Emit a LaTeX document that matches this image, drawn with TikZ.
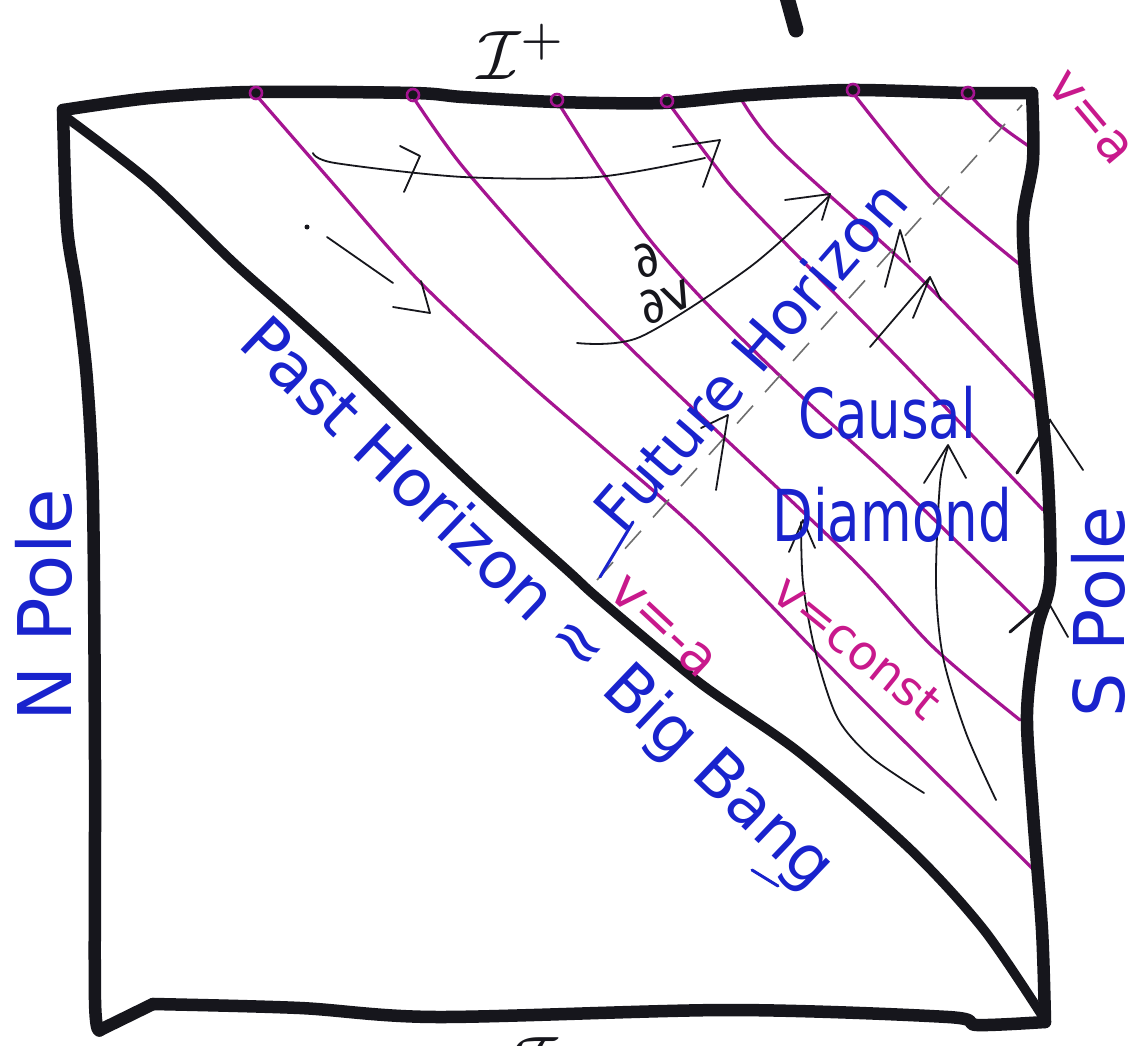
\documentclass[tikz,border=0pt]{standalone}
\usepackage{fontspec}
\setmainfont{DejaVu Sans}
\definecolor{ink}{RGB}{22,22,28}
\definecolor{mag}{RGB}{165,20,145}
\definecolor{magtxt}{RGB}{200,25,140}
\definecolor{pen}{RGB}{25,35,205}
\definecolor{graypen}{RGB}{110,110,110}
\newcommand\hwsize[1]{\fontsize{#1}{#1}\selectfont}
\begin{document}
\begin{tikzpicture}[x=1pt,y=-1pt,
 frame/.style={draw=ink,line width=12.5pt,line cap=round,line join=round},
 diag/.style={draw=ink,line width=9.5pt,line cap=round,line join=round},
 vline/.style={draw=mag,line width=3.2pt,line cap=round},
 vdot/.style={circle,draw=mag,line width=2.6pt,inner sep=0pt,minimum size=12pt},
 thin/.style={draw=ink,line width=1.8pt,line cap=round,line join=round},
 horiz/.style={draw=graypen,line width=1.6pt,dash pattern=on 24pt off 18pt},
 bluetxt/.style={text=pen,inner sep=0pt},
 bluestroke/.style={draw=pen,line width=3pt,line cap=round},
 magtext/.style={text=magtxt,inner sep=0pt},
]
\clip (0,0) rectangle (1143,1046);
\fill[white] (0,0) rectangle (1143,1046);

% magenta v = const lines
\draw[vline] plot[smooth] coordinates {(256,95) (330,180) (420,282) (525,380) (600,445) (700,533) (850,687) (1037,873)};
\draw[vline] plot[smooth] coordinates {(413,97) (463,167) (563,280) (663,380) (850,557) (933,647) (1020,720)};
\draw[vline] plot[smooth] coordinates {(557,101) (603,173) (650,240) (710,307) (800,395) (893,480) (1030,613)};
\draw[vline] plot[smooth] coordinates {(667,101) (713,163) (750,207) (900,360) (1043,510)};
\draw[vline] plot[smooth] coordinates {(740,97) (780,150) (917,275) (1037,400)};
\draw[vline] plot[smooth] coordinates {(853,93) (933,190) (1023,267)};
\draw[vline] plot[smooth] coordinates {(968,93) (997,123) (1030,147)};

% frame
\draw[frame] plot[smooth,tension=0.5] coordinates {(63,110) (150,98) (250,92) (413,93) (463,97) (557,102) (663,103) (750,95) (850,90) (967,93) (1032,93)};
\draw[frame] plot[smooth,tension=0.5] coordinates {(1032,93) (1033,160) (1023,220) (1027,293) (1040,393) (1048,480) (1050,580) (1037,630) (1027,713) (1033,813) (1042,930) (1045,1022)};
\draw[frame] plot[smooth,tension=0.5] coordinates {(1045,1022) (977,1025) (948,1017) (729,1010) (437,1017) (300,1008) (153,1004)};
\draw[frame] (153,1004) -- (100,1030);
\draw[frame] plot[smooth,tension=0.5] coordinates {(100,1030) (95,1000) (95,760) (93,500) (87,380) (77,293) (67,227) (63,110)};
% past horizon
\draw[diag] plot[smooth,tension=0.5] coordinates {(63,115) (150,182) (233,262) (293,315) (350,367) (467,480) (567,570) (600,600) (700,683) (800,753) (911,850) (984,930) (1045,1020)};

% dots on the top edge
\node[vdot] (d1) at (256,93) {};
\node[vdot] (d2) at (413,95) {};
\node[vdot] (d3) at (557,100) {};
\node[vdot] (d4) at (667,101) {};
\node[vdot] (d6) at (853,90) {};
\node[vdot] (d7) at (968,93) {};

% future horizon (dashed)
\draw[horiz] (597,580) -- (1022,105);

% top stroke
\draw[ink,line width=15pt,line cap=round] (785,-10) -- (796,30);

% thin arrows
\draw[thin] plot[smooth] coordinates {(313,153) (335,163) (463,177) (597,177) (705,158)};
\draw[thin] (400,146) -- (420,156) -- (404,192);
\draw[thin] (673,147) -- (720,140) -- (703,187);
\fill[ink] (307,227) circle (2.5pt);
\draw[thin] (327,237) -- (393,283);
\draw[thin] (393,307) -- (430,313) -- (421,281);
\draw[thin] plot[smooth] coordinates {(577,343) (640,337) (750,267) (828,197)};
\draw[thin] (785,200) -- (830,194) -- (822,220);
\draw[thin] (716,490) -- (728,415) -- (701,428);
\draw[thin] (870,347) -- (930,277) -- (913,318);
\draw[thin] (930,277) -- (941,300);
\draw[thin] (885,287) -- (900,230) -- (910,262);
\draw[thin] plot[smooth] coordinates {(924,793) (871,757) (837,717) (815,650) (803,583) (801,522)};
\draw[thin] (789,552) -- (803,520) -- (815,548);
\draw[thin] plot[smooth] coordinates {(996,800) (966,733) (943,657) (936,583) (940,483) (948,447)};
\draw[thin] (924,483) -- (948,445) -- (966,478);
\draw[ink,line width=3pt,line cap=round] (1017,473) -- (1050,420);
\draw[thin] (1050,420) -- (1083,470);
\draw[ink,line width=3pt,line cap=round] (1010,632) -- (1047,600);
\draw[thin] (1047,600) -- (1068,637);

% labels
\node[text=ink] (scrip) at (522,52) {\scalebox{7}{$\mathcal{I}^{+}$}};
\node[text=ink] (scrim) at (560,1058) {\scalebox{7}{$\mathcal{I}^{-}$}};
\node[bluetxt,rotate=-43.6,font=\hwsize{65}] (past) at (536,606) {Past Horizon ≈ Big Bang};
\node[bluetxt,rotate=49,font=\hwsize{60}] (future) at (750,355) {Future Horizon};
\draw[bluestroke] (600,577) -- (633,522);
\draw[bluestroke] (752,870) -- (778,886);
\node[bluetxt,font=\hwsize{53}] (causal) at (887,413) {\scalebox{1}[1.3]{Causal}};
\node[bluetxt,font=\hwsize{53}] (diamond) at (892,515) {\scalebox{1}[1.35]{Diamond}};
\node[bluetxt,rotate=90,font=\hwsize{70}] (spole) at (1098,612) {S Pole};
\node[bluetxt,rotate=90,font=\hwsize{74}] (npole) at (44,605) {N Pole};
\node[magtext,rotate=-50,font=\hwsize{52}] (vpa) at (1090,118) {v=a};
\node[magtext,rotate=-43,font=\hwsize{53}] (vma) at (663,627) {v=-a};
\node[magtext,rotate=-39,font=\hwsize{48}] (vconst) at (857,647) {v=const};
\node[text=ink,rotate=25,font=\hwsize{50},align=center] (ddv) at (656,280) {∂\\[-6pt]∂v};
\end{tikzpicture}
\end{document}
